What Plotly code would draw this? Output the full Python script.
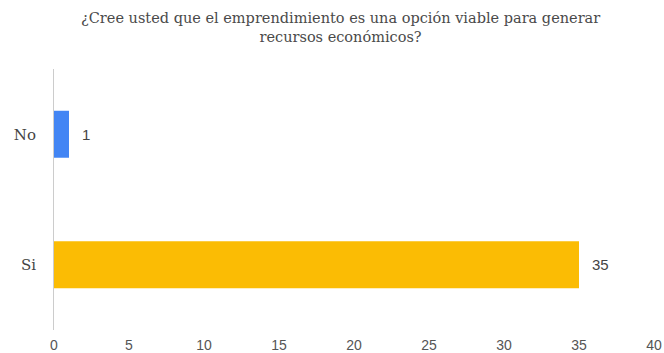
import plotly.graph_objects as go

categories = ["No", "Si"]
counts = [1, 35]
bar_colors = ["#4285F4", "#FBBC04"]
x_ticks = [0, 5, 10, 15, 20, 25, 30, 35, 40]
title_lines = [
    "¿Cree usted que el emprendimiento es una opción viable para generar",
    "recursos económicos?",
]

SANS = "Liberation Sans, Arial, sans-serif"
SERIF = "DejaVu Serif, Georgia, serif"

fig = go.Figure()
fig.add_trace(go.Bar(
    x=counts,
    y=categories,
    orientation="h",
    marker=dict(color=bar_colors, line=dict(width=0)),
    width=0.36,
    hoverinfo="x+y",
))

# value labels placed just past the end of each bar
for cat, val in zip(categories, counts):
    fig.add_annotation(
        x=val, y=cat, text=str(val), showarrow=False,
        xanchor="left", xshift=11, yanchor="middle",
        font=dict(family=SANS, size=15, color="#444444"),
    )

# chart title, centred over the chart
fig.add_annotation(
    x=0.478, xref="paper", y=1.235, yref="paper",
    xanchor="center", yanchor="top",
    text="<br>".join(title_lines), showarrow=False,
    font=dict(family=SERIF, size=14.5, color="#4a4a4a"),
)

fig.update_layout(
    width=664, height=353,
    margin=dict(l=54, r=10, t=69, b=23, autoexpand=False),
    paper_bgcolor="white", plot_bgcolor="white",
    showlegend=False,
)

fig.update_xaxes(
    range=[0, 40], tickvals=x_ticks, ticktext=[str(t) for t in x_ticks],
    showgrid=False, zeroline=False, showline=False, ticks="",
    tickfont=dict(family=SANS, size=14, color="#555555"),
    ticklabelstandoff=5, automargin=False,
)
fig.update_yaxes(
    categoryorder="array", categoryarray=["Si", "No"],
    range=[-0.5, 1.5],
    showgrid=False, zeroline=False,
    showline=True, linecolor="#cccccc", linewidth=1,
    ticks="", ticklabelstandoff=14, automargin=False,
    tickfont=dict(family=SERIF, size=15, color="#444444"),
)

fig.write_html("out.html")
